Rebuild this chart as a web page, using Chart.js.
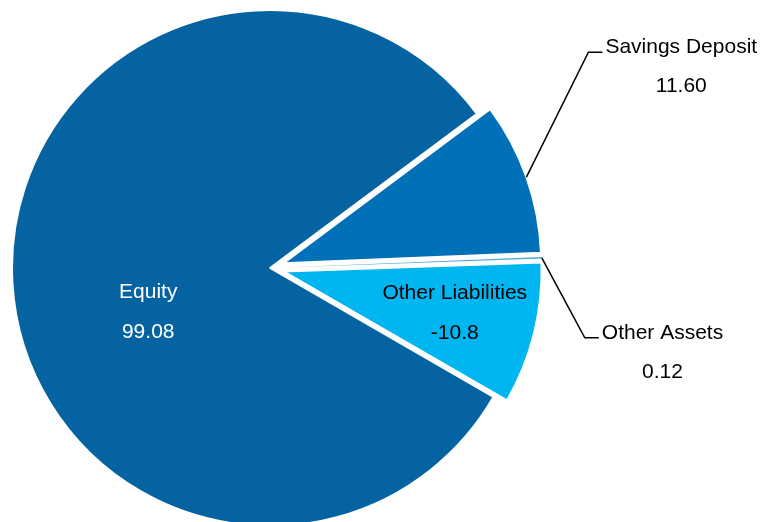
<!DOCTYPE html>
<html>
<head>
<meta charset="utf-8">
<script src="https://cdn.jsdelivr.net/npm/chart.js@4"></script>
<style>
  html, body { margin: 0; padding: 0; background: #fff; }
  #wrap { width: 763px; height: 522px; position: relative; }
</style>
</head>
<body>
<div id="wrap"><canvas id="pieChart"></canvas></div>
<script>
// data
const categories = ['Equity', 'Savings Deposit', 'Other Assets', 'Other Liabilities'];
const values = [99.08, 11.60, 0.12, -10.8];
const valueLabels = ['99.08', '11.60', '0.12', '-10.8'];

const sliceColors = ['#0563A1', '#0070B8', '#4AA6DE', '#00B6F0'];
// how far each slice is pulled out of the pie, px
const explode = [0, 14, 14, 14];

// label placement: inside labels sit near the slice centre, outside ones get a leader line
const labelPlace = [
    { inside: true, dx: 7, dy: 22, color: '#ffffff' },
    { inside: false, dx: 62, dy: -125, color: '#000000' },
    { inside: false, dx: 43, dy: 80, color: '#000000' },
    { inside: true, dx: 46, dy: -4, color: '#000000' }
];

const FONT = '21px "Liberation Sans", Arial, sans-serif';

// Chart.js' own offset also grows the radius, so move the arc centres instead
const explodeSlices = {
    id: 'explodeSlices',
    afterDatasetUpdate(chart, args) {
        if (args.index !== 0) return;
        args.meta.data.forEach((arc, i) => {
            const d = explode[i] || 0;
            if (!d) return;
            const mid = (arc.startAngle + arc.endAngle) / 2;
            arc.x += Math.cos(mid) * d;
            arc.y += Math.sin(mid) * d;
        });
    }
};

const pieLabels = {
    id: 'pieLabels',
    afterDatasetsDraw(chart) {
        const ctx = chart.ctx;
        const meta = chart.getDatasetMeta(0);
        ctx.save();
        ctx.font = FONT;
        ctx.textBaseline = 'alphabetic';
        meta.data.forEach((arc, i) => {
            const place = labelPlace[i];
            const p = arc.getProps(['x', 'y', 'startAngle', 'endAngle', 'outerRadius']);
            const mid = (p.startAngle + p.endAngle) / 2;
            ctx.fillStyle = place.color;
            if (place.inside) {
                const pos = arc.tooltipPosition();
                const x = pos.x + place.dx;
                const y = pos.y + place.dy;
                ctx.textAlign = 'center';
                ctx.fillText(categories[i], x, y);
                ctx.fillText(valueLabels[i], x, y + 40);
            } else {
                const sx = p.x + Math.cos(mid) * p.outerRadius;
                const sy = p.y + Math.sin(mid) * p.outerRadius;
                const ex = sx + place.dx;
                const ey = sy + place.dy;
                ctx.strokeStyle = '#000';
                ctx.lineWidth = 1.5;
                ctx.beginPath();
                ctx.moveTo(sx, sy);
                ctx.lineTo(ex, ey);
                ctx.lineTo(ex + 14, ey);
                ctx.stroke();
                const tx = ex + 17;
                const w = ctx.measureText(categories[i]).width;
                ctx.textAlign = 'left';
                ctx.fillText(categories[i], tx, ey + 1);
                ctx.textAlign = 'center';
                ctx.fillText(valueLabels[i], tx + w / 2, ey + 40);
            }
        });
        ctx.restore();
    }
};

new Chart(document.getElementById('pieChart').getContext('2d'), {
    type: 'pie',
    data: {
        labels: categories,
        datasets: [{
            data: values,
            backgroundColor: sliceColors,
            borderColor: '#ffffff',
            borderWidth: [2, 2, 0, 2]
        }]
    },
    options: {
        responsive: true,
        maintainAspectRatio: false,
        animation: false,
        rotation: 120,
        radius: 258,
        clip: false,
        layout: {
            padding: { top: 14, right: 223, bottom: 0, left: 0 }
        },
        plugins: {
            legend: { display: false },
            tooltip: { enabled: false }
        }
    },
    plugins: [explodeSlices, pieLabels]
});
</script>
</body>
</html>
